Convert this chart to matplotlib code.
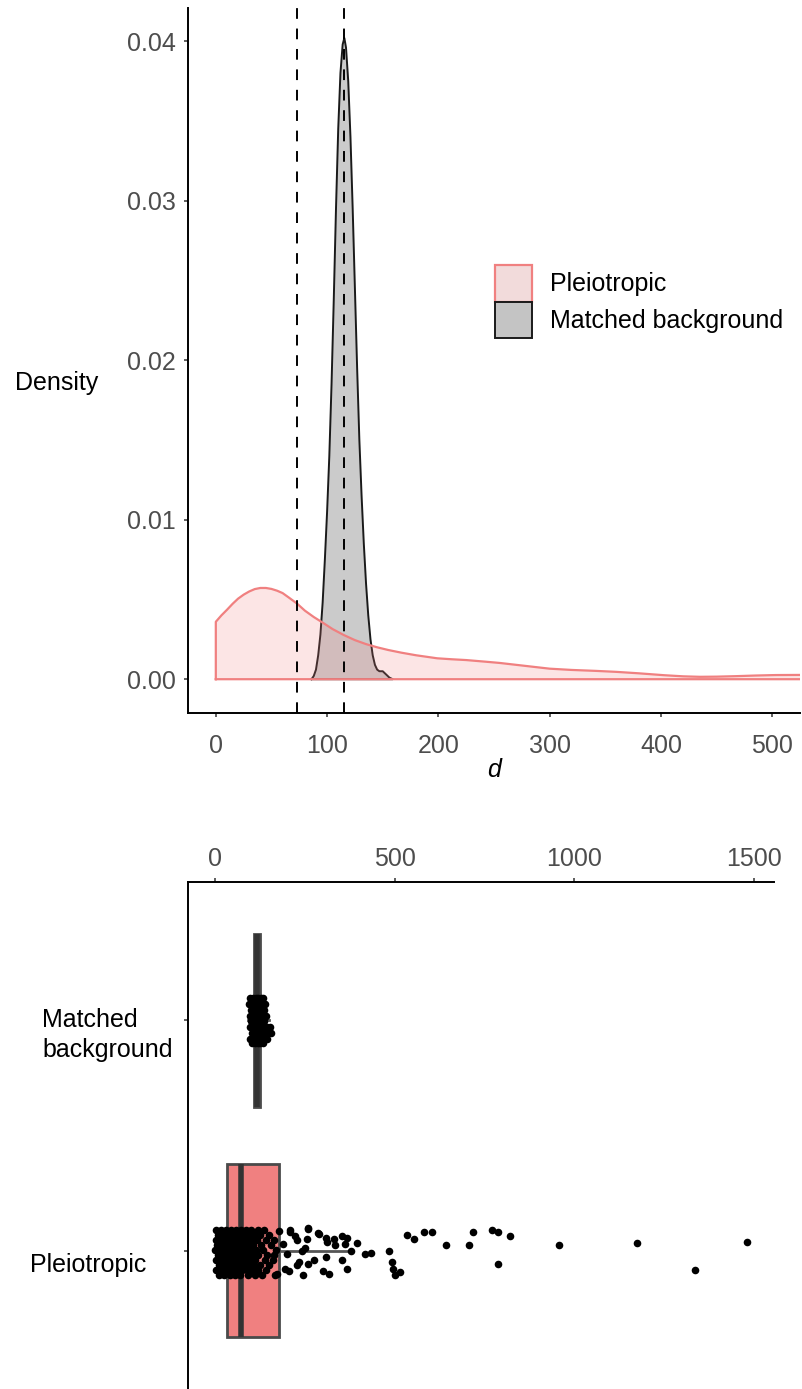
import matplotlib
matplotlib.use("Agg")
import matplotlib.pyplot as plt
from matplotlib.patches import Patch
from matplotlib.transforms import blended_transform_factory

plt.rcParams["font.family"] = ["Liberation Sans", "DejaVu Sans"]

# --- density curves (d, density) ---
pleio_x = [0, 0, 5, 10, 15, 20, 25, 30, 35, 40, 45, 50, 55, 60, 66, 73, 80, 88, 96,
           105, 115, 125, 135, 145, 155, 167, 180, 199, 212, 225, 242, 255, 270, 285,
           300, 320, 342, 360, 380, 403, 420, 435, 450, 467, 485, 503, 530, 560, 600,
           600]
pleio_y = [0, 0.0036, 0.0040, 0.00435, 0.00472, 0.00505, 0.0053, 0.0055, 0.00565,
           0.00572, 0.00572, 0.00566, 0.00555, 0.0054, 0.0051, 0.00474, 0.0043,
           0.0039, 0.00355, 0.00314, 0.00277, 0.00245, 0.0022, 0.0020, 0.00183,
           0.00166, 0.0015, 0.00131, 0.00125, 0.0012, 0.0011, 0.00102, 0.0009,
           0.00078, 0.00066, 0.00058, 0.00052, 0.00046, 0.00037, 0.00025, 0.00018,
           0.00015, 0.00016, 0.00019, 0.00023, 0.00026, 0.00027, 0.00025, 0.0002, 0]

bg_x = [86, 88, 90, 92, 94, 96, 98, 100, 102, 104, 106, 108, 110, 112, 114, 115.5,
        117, 119, 121, 123, 125, 127, 129, 131, 133, 135, 137, 139, 141, 143, 145,
        147, 150, 153, 156, 159]
bg_y = [0, 0.0002, 0.0006, 0.0015, 0.0028, 0.0048, 0.0075, 0.0105, 0.0140, 0.0185,
        0.0238, 0.0295, 0.0345, 0.0380, 0.0398, 0.0402, 0.0396, 0.0375, 0.0340,
        0.0295, 0.0245, 0.0195, 0.0150, 0.0115, 0.0085, 0.0060, 0.0040, 0.0025,
        0.0015, 0.0009, 0.0006, 0.0005, 0.0005, 0.0003, 0.0001, 0]

vlines = [73, 115]  # dashed reference lines

# --- boxplot summaries (d) ---
groups = ["Pleiotropic", "Matched\nbackground"]
box_q1 = [33, 107]
box_med = [73, 116]
box_q3 = [177, 125]
box_lo = [0, 90]
box_hi = [377, 150]

# --- jittered points: matched background (d, vertical jitter) ---
bg_pts_d = [98, 106, 113, 120, 127, 134,
            95, 102, 110, 117, 124, 131, 138,
            99, 107, 114, 121, 128, 135,
            96, 104, 111, 118, 125, 132, 140,
            100, 108, 115, 122, 129, 136,
            97, 105, 112, 119, 126, 133, 143, 152,
            101, 109, 116, 123, 130, 138, 148, 155,
            98, 106, 113, 120, 127, 135, 145,
            103, 111, 118, 125, 132]
bg_pts_j = [0.095] * 6 + [0.07] * 7 + [0.045] * 6 + [0.02] * 7 + [-0.005] * 6 \
    + [-0.03] * 8 + [-0.055] * 8 + [-0.08] * 7 + [-0.1] * 5

# --- jittered points: pleiotropic ---
pl_pts_d = [2, 15, 29, 44, 58, 71, 86, 100, 118, 135,
            8, 22, 36, 50, 64, 79, 93, 108, 124, 150,
            1, 14, 28, 42, 57, 72, 86, 101, 116, 140, 165,
            6, 20, 34, 49, 63, 77, 92, 106, 128, 155,
            0, 13, 27, 41, 55, 70, 84, 99, 113, 132, 170,
            7, 21, 35, 48, 62, 77, 91, 104, 120, 145,
            2, 16, 30, 44, 58, 72, 86, 98, 112, 138, 160,
            9, 23, 37, 51, 65, 79, 94, 108, 126, 150,
            3, 17, 31, 45, 59, 74, 88, 103, 118, 140,
            10, 25, 40, 55, 70, 90, 110, 130,
            533, 553, 583, 604, 644, 707, 718, 770, 787, 787, 821, 959, 1174, 1336, 1483,
            485, 492, 496, 501, 514, 416, 434, 377, 395, 368, 353, 361, 353, 368, 333,
            331, 317, 300, 309, 311, 289, 275, 259, 255, 244, 258, 233, 242, 250, 222,
            229, 209, 200, 206, 194, 178, 227, 189, 172, 167, 163, 208, 258, 285, 309]
pl_pts_j = [0.09] * 10 + [0.07] * 10 + [0.048] * 11 + [0.026] * 10 + [0.004] * 11 \
    + [-0.018] * 10 + [-0.04] * 11 + [-0.062] * 10 + [-0.084] * 10 + [-0.104] * 8 \
    + [0.07, 0.052, 0.081, 0.081, 0.027, 0.023, 0.08, 0.088, 0.081, -0.059, 0.064,
       0.023, 0.033, -0.083, 0.039,
       0, -0.049, -0.078, -0.104, -0.093, -0.013, -0.009, 0, 0.035, -0.078, -0.042,
       0.03, 0.062, 0.057, 0.023,
       0.052, -0.099, -0.086, -0.028, 0.04, 0.071, -0.042, 0.093, 0.052, -0.107,
       -0.057, -0.049, 0, 0.01, 0.064,
       0.045, 0.081, -0.016, -0.086, -0.078, 0.086, -0.064, 0.03, -0.1, -0.104,
       -0.02, 0.092, 0.099, 0.077, 0.056]

PINK = "#F08080"
TICK = "#4D4D4D"
FS = 18

fig = plt.figure(figsize=(8.03, 13.89), dpi=100)

# ================= top: density =================
ax = fig.add_axes([188 / 803, 1 - 712.7 / 1389, 612 / 803, 705 / 1389])
ax.fill(bg_x, bg_y, facecolor="#7F7F7F", alpha=0.4, edgecolor="none", zorder=2)
ax.plot(bg_x + [bg_x[0]], bg_y + [bg_y[0]], color="#1a1a1a", lw=1.4, zorder=3)
ax.fill(pleio_x, pleio_y, facecolor=PINK, alpha=0.2, edgecolor="none", zorder=4)
ax.plot(pleio_x + [pleio_x[0]], pleio_y + [pleio_y[0]], color=PINK, lw=1.6, zorder=5)
for v in vlines:
    ax.axvline(v, color="black", lw=1.4, ls=(0, (5.5, 5)), zorder=6)
ax.set_xlim(-25, 525)
ax.set_ylim(-0.0021, 0.0421)
ax.set_xticks([0, 100, 200, 300, 400, 500])
ax.set_yticks([0, 0.01, 0.02, 0.03, 0.04])
ax.set_yticklabels([f"{t:.2f}" for t in [0, 0.01, 0.02, 0.03, 0.04]])
for s in ["top", "right"]:
    ax.spines[s].set_visible(False)
for s in ["left", "bottom"]:
    ax.spines[s].set_linewidth(1.4)
ax.tick_params(length=3, width=1.1, color="#333333", labelsize=FS, labelcolor=TICK)
ax.tick_params(axis="x", pad=12)
ax.tick_params(axis="y", pad=6)
ax.set_xlabel("d", fontsize=FS, style="italic", labelpad=0)
ax.set_ylabel("Density", fontsize=FS, rotation=0, ha="center", va="center")
ax.yaxis.set_label_coords(-0.215, 0.468)

handles = [Patch(facecolor="#F2DBDB", edgecolor=PINK, lw=1.6),
           Patch(facecolor="#C4C4C4", edgecolor="#1a1a1a", lw=1.4)]
fig.legend(handles, ["Pleiotropic", "Matched background"], loc="upper left",
           bbox_to_anchor=(495 / 803, 1 - 265 / 1389), frameon=False, fontsize=FS,
           handlelength=1.48, handleheight=1.88, labelspacing=0, handletextpad=0.72,
           borderpad=0, borderaxespad=0)

# ================= bottom: box + jitter =================
bx = fig.add_axes([188 / 803, 0, 586 / 803, 507 / 1389])
stats = []
for i in range(2):
    stats.append(dict(q1=box_q1[i], med=box_med[i], q3=box_q3[i],
                      whislo=box_lo[i], whishi=box_hi[i], fliers=[]))
bp = bx.bxp(stats, positions=[1, 2], vert=False, widths=0.75, patch_artist=True,
            showfliers=False, showcaps=False,
            boxprops=dict(linewidth=2.0, edgecolor="#4a4a4a"),
            whiskerprops=dict(linewidth=2.0, color="#555555"),
            medianprops=dict(linewidth=4.0, color="#333333"))
bp["boxes"][0].set_facecolor(PINK)
bp["boxes"][1].set_facecolor("#BEBEBE")
bx.scatter(pl_pts_d, [1 + j for j in pl_pts_j], s=30, color="black", lw=0, zorder=5)
bx.scatter(bg_pts_d, [2 + j for j in bg_pts_j], s=30, color="black", lw=0, zorder=5)
bx.set_xlim(-76, 1557)
bx.set_ylim(0.4, 2.6)
bx.xaxis.tick_top()
bx.set_xticks([0, 500, 1000, 1500])
bx.set_yticks([1, 2])
bx.set_yticklabels([])
for s in ["bottom", "right"]:
    bx.spines[s].set_visible(False)
for s in ["left", "top"]:
    bx.spines[s].set_linewidth(1.4)
bx.tick_params(length=3, width=1.1, color="#333333", labelsize=FS, labelcolor=TICK)
bx.tick_params(axis="x", pad=5)
tr = blended_transform_factory(fig.transFigure, bx.transData)
bx.text(42 / 803, 2 - 0.065, groups[1], transform=tr, ha="left", va="center",
        fontsize=FS, color="black", linespacing=1.3)
bx.text(88 / 803, 1 - 0.06, groups[0], transform=tr, ha="center", va="center",
        fontsize=FS, color="black")

fig.savefig("out.png", dpi=100)
